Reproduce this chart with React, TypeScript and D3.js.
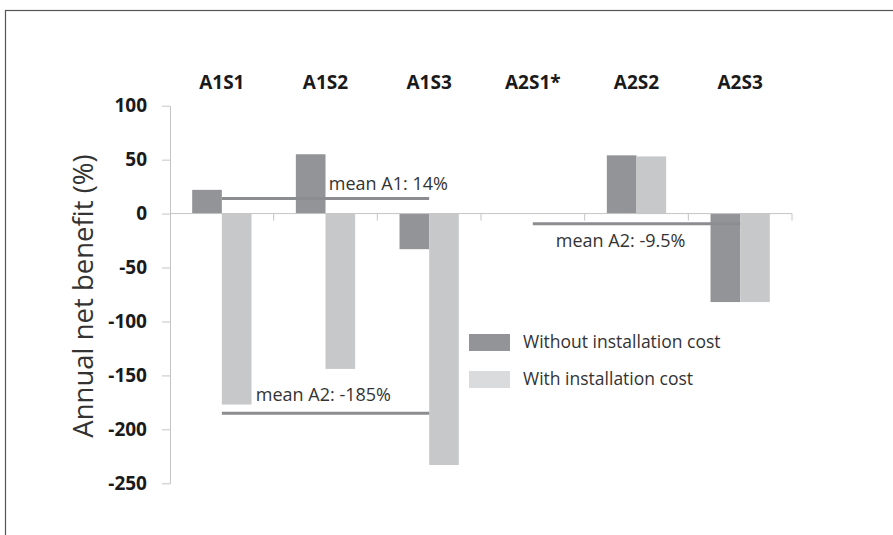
import React, { useEffect, useRef } from 'react';
import * as d3 from 'd3';

const categories = ['A1S1', 'A1S2', 'A1S3', 'A2S1*', 'A2S2', 'A2S3'];
const withoutCost: (number | null)[] = [22, 55, -33, null, 54, -82];
const withCost: (number | null)[] = [-177, -144, -233, null, 53, -82];
const yTicks = [100, 50, 0, -50, -100, -150, -200, -250];
const meanLabels = ['mean A1: 14%', 'mean A2: -185%', 'mean A2: -9.5%'];
const meanValues = [14, -185, -9.5];
const meanFrom = ['A1S1', 'A1S1', 'A2S1*'];
const meanTo = ['A1S3', 'A1S3', 'A2S3'];
const legendLabels = ['Without installation cost', 'With installation cost'];

export default function App() {
  const ref = useRef<SVGSVGElement>(null);

  useEffect(() => {
    if (!ref.current) return;
    const svg = d3.select(ref.current);
    svg.selectAll('*').remove();

    const width = 893;
    const height = 535;
    const font = '"Open Sans", sans-serif';
    const dark = '#939497';
    const light = '#c7c8ca';
    const lineCol = '#8c8d90';

    svg.attr('width', width).attr('height', height);

    // frame
    svg.append('rect')
      .attr('x', 5.5).attr('y', 10.5)
      .attr('width', 900).attr('height', 540)
      .attr('fill', 'none').attr('stroke', '#555').attr('stroke-width', 1.2);

    const x = d3.scaleBand<string>().domain(categories).range([170, 792]);
    const y = d3.scaleLinear().domain([-250, 100]).range([483.3, 105.7]);
    const bw = x.bandwidth() * 0.286;
    const cx = (c: string) => x(c)! + x.bandwidth() / 2;

    // y axis
    const yAxis = svg.append('g').attr('transform', 'translate(170,0)')
      .call(d3.axisLeft(y).tickValues(yTicks).tickFormat((d) => String(d))
        .tickSize(8).tickSizeOuter(0).tickPadding(15));
    yAxis.select('.domain').attr('stroke', '#c4c4c4');
    yAxis.selectAll('.tick line').attr('stroke', '#c4c4c4');
    yAxis.selectAll('.tick text')
      .attr('font-family', font).attr('font-size', 19).attr('font-weight', 'bold').attr('fill', '#1a1a1a');

    // bars
    svg.selectAll('rect.dark')
      .data(categories.map((c, i) => ({ c, v: withoutCost[i] })).filter((d) => d.v != null))
      .enter().append('rect')
      .attr('class', 'dark')
      .attr('x', (d) => cx(d.c) - bw)
      .attr('y', (d) => y(Math.max(0, d.v!)))
      .attr('width', bw)
      .attr('height', (d) => Math.abs(y(d.v!) - y(0)))
      .attr('fill', dark);

    svg.selectAll('rect.light')
      .data(categories.map((c, i) => ({ c, v: withCost[i] })).filter((d) => d.v != null))
      .enter().append('rect')
      .attr('class', 'light')
      .attr('x', (d) => cx(d.c))
      .attr('y', (d) => y(Math.max(0, d.v!)))
      .attr('width', bw)
      .attr('height', (d) => Math.abs(y(d.v!) - y(0)))
      .attr('fill', light);

    // zero axis
    svg.append('line')
      .attr('x1', 170).attr('x2', 792)
      .attr('y1', y(0)).attr('y2', y(0))
      .attr('stroke', '#c4c4c4');
    svg.selectAll('line.ztick')
      .data(categories)
      .enter().append('line')
      .attr('class', 'ztick')
      .attr('x1', (d) => x(d)! + x.bandwidth())
      .attr('x2', (d) => x(d)! + x.bandwidth())
      .attr('y1', y(0)).attr('y2', y(0) + 7)
      .attr('stroke', '#c4c4c4');

    // category labels on top
    svg.selectAll('text.cat')
      .data(categories)
      .enter().append('text')
      .attr('class', 'cat')
      .attr('x', (d) => cx(d))
      .attr('y', 89)
      .attr('text-anchor', 'middle')
      .attr('font-family', font).attr('font-size', 19).attr('font-weight', 'bold')
      .attr('fill', '#1a1a1a')
      .text((d) => d);

    // mean lines
    const textDx = [107, 34, 23];
    const textDy = [-8, -12, 23];
    meanValues.forEach((v, i) => {
      svg.append('line')
        .attr('x1', cx(meanFrom[i])).attr('x2', cx(meanTo[i]))
        .attr('y1', y(v)).attr('y2', y(v))
        .attr('stroke', lineCol).attr('stroke-width', 3);
      svg.append('text')
        .attr('x', cx(meanFrom[i]) + textDx[i])
        .attr('y', y(v) + textDy[i])
        .attr('font-family', font).attr('font-size', 18)
        .attr('fill', '#333')
        .text(meanLabels[i]);
    });

    // y title
    svg.append('text')
      .attr('transform', 'translate(93,296) rotate(-90)')
      .attr('text-anchor', 'middle')
      .attr('font-family', font).attr('font-size', 27.5)
      .attr('fill', '#333')
      .text('Annual net benefit (%)');

    // legend
    const legend = svg.append('g').attr('transform', 'translate(469,334)');
    [dark, '#dadbdc'].forEach((col, i) => {
      legend.append('rect')
        .attr('x', 0).attr('y', i * 37)
        .attr('width', 41).attr('height', 17)
        .attr('fill', col);
      legend.append('text')
        .attr('x', 54).attr('y', i * 37 + 14)
        .attr('font-family', font).attr('font-size', 17.5)
        .attr('fill', '#333')
        .text(legendLabels[i]);
    });
  }, []);

  return <svg ref={ref} style={{ position: 'absolute', left: 0, top: 0 }} />;
}
